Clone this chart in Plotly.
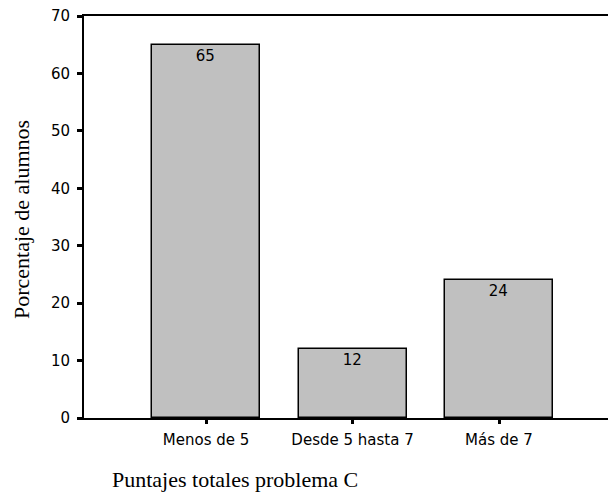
import plotly.graph_objects as go

# Percentage of students by total score band, problem C
categories = ["Menos de 5", "Desde 5 hasta 7", "Más de 7"]
percentages = [65, 12, 24]
y_ticks = [0, 10, 20, 30, 40, 50, 60, 70]

W, H = 608, 493
ML, MR, MT, MB = 84, 0, 16, 75
plot_w = W - ML - MR
plot_h = H - MT - MB

tick_font = dict(family="DejaVu Sans", size=15, color="black")
title_font = dict(family="Liberation Serif", size=22, color="black")

fig = go.Figure(
    go.Bar(
        x=categories,
        y=percentages,
        width=0.737,
        marker=dict(color="#c0c0c0", line=dict(color="black", width=1.5)),
        text=[f"{v:.0f}" for v in percentages],
        textposition="inside",
        insidetextanchor="end",
        textangle=0,
        constraintext="none",
        textfont=tick_font,
        cliponaxis=False,
    )
)

fig.update_layout(
    width=W,
    height=H,
    margin=dict(l=ML, r=MR, t=MT, b=MB, pad=0),
    paper_bgcolor="white",
    plot_bgcolor="white",
    showlegend=False,
    bargap=0,
)

fig.update_xaxes(
    type="category",
    range=[-0.833, 2.744],
    showline=True,
    linecolor="black",
    linewidth=2,
    mirror=True,
    showgrid=False,
    zeroline=False,
    ticks="outside",
    ticklen=4,
    tickwidth=3,
    tickcolor="black",
    tickfont=tick_font,
    ticklabelstandoff=3,
)

fig.update_yaxes(
    range=[0, 70],
    tickvals=y_ticks,
    showline=True,
    linecolor="black",
    linewidth=2,
    showgrid=False,
    zeroline=False,
    ticks="outside",
    ticklen=5,
    tickwidth=3,
    tickcolor="black",
    tickfont=tick_font,
    ticklabelstandoff=4,
)

# Axis titles
fig.add_annotation(
    text="Porcentaje de alumnos",
    xref="paper", yref="paper",
    x=(21 - ML) / plot_w, y=(H - MB - 220) / plot_h,
    xanchor="center", yanchor="middle",
    textangle=-90,
    showarrow=False,
    font=title_font,
)
fig.add_annotation(
    text="Puntajes totales problema C",
    xref="paper", yref="paper",
    x=(110 - ML) / plot_w, y=-(479 - (H - MB)) / plot_h,
    xanchor="left", yanchor="middle",
    showarrow=False,
    font=title_font,
)

fig.write_html("out.html")
